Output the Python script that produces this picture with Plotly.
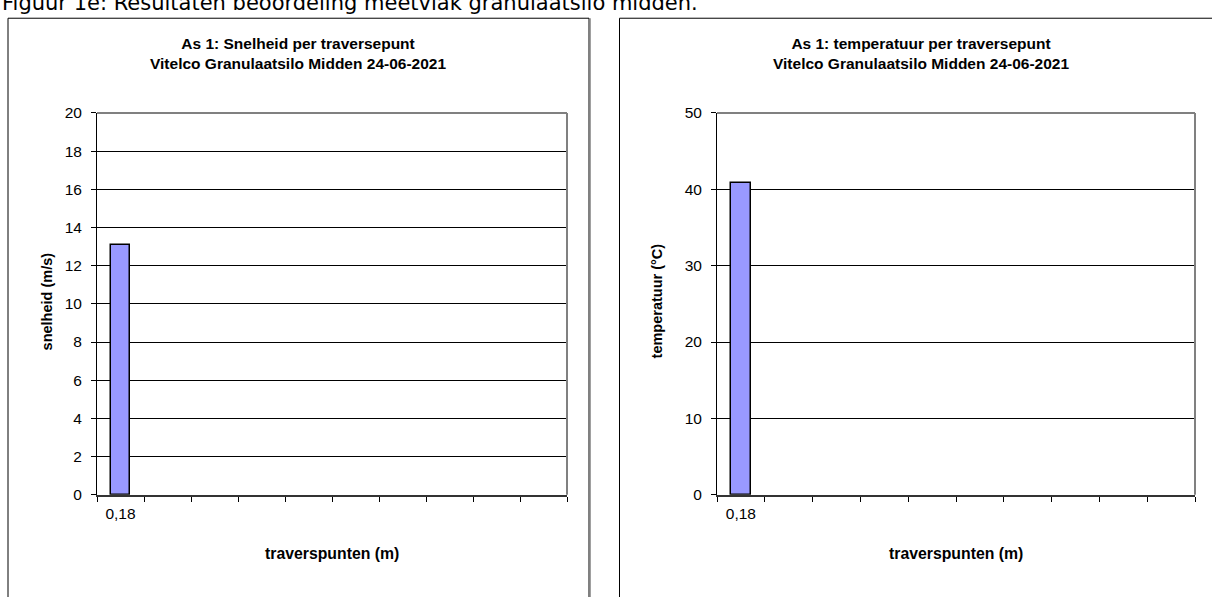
import plotly.graph_objects as go

W, H = 1212, 597

# ---- data ----
x_categories = ["0,18", "c2", "c3", "c4", "c5", "c6", "c7", "c8", "c9", "c10"]
x_ticklabels = ["0,18", "", "", "", "", "", "", "", "", ""]
points = ["0,18"]
snelheid = [13.1]
temperatuur = [40.8]

header = "Figuur 1e: Resultaten beoordeling meetvlak granulaatsilo midden."
title_left = "As 1: Snelheid per traversepunt<br>Vitelco Granulaatsilo Midden 24-06-2021"
title_right = "As 1: temperatuur per traversepunt<br>Vitelco Granulaatsilo Midden 24-06-2021"
ytitle_left = "snelheid (m/s)"
ytitle_right = "temperatuur (°C)"
xtitle = "traverspunten (m)"

FONT = "Liberation Sans, Arial, sans-serif"

def px(x):
    return x / W

def py(y):
    return 1 - y / H

fig = go.Figure()
fig.add_trace(go.Bar(x=points, y=snelheid, xaxis="x", yaxis="y", width=0.42,
                     marker=dict(color="#9999FF", line=dict(color="black", width=1.5)),
                     showlegend=False))
fig.add_trace(go.Bar(x=points, y=temperatuur, xaxis="x2", yaxis="y2", width=0.42,
                     marker=dict(color="#9999FF", line=dict(color="black", width=1.5)),
                     showlegend=False))

plot_top, plot_bot = 107, 500
left_plot = (97, 567)
right_plot = (717, 1195)

xcommon = dict(type="category", categoryorder="array", categoryarray=x_categories,
               tickmode="array", tickvals=x_categories, ticktext=x_ticklabels,
               tickson="boundaries", range=[-0.5, 9.5], showgrid=False,
               showline=True, linecolor="#333333", linewidth=1.5,
               ticks="outside", ticklen=5, tickcolor="black",
               tickfont=dict(family=FONT, size=15.5, color="black"),
               ticklabelstandoff=4,
               fixedrange=True, zeroline=False)
ycommon = dict(showline=True, linecolor="black", linewidth=1,
               showgrid=True, gridcolor="black", gridwidth=1,
               ticks="outside", ticklen=5, tickcolor="black",
               tickfont=dict(family=FONT, size=15.5, color="black"),
               ticklabelstandoff=6, zeroline=False, fixedrange=True)

fig.update_layout(
    width=W, height=H,
    margin=dict(l=0, r=0, t=0, b=0),
    paper_bgcolor="white", plot_bgcolor="white",
    bargap=0,
    xaxis=dict(domain=[px(left_plot[0]), px(left_plot[1])], anchor="y", **xcommon),
    yaxis=dict(domain=[py(plot_bot), py(plot_top)], anchor="x", range=[0, 20], dtick=2, **ycommon),
    xaxis2=dict(domain=[px(right_plot[0]), px(right_plot[1])], anchor="y2", **xcommon),
    yaxis2=dict(domain=[py(plot_bot), py(plot_top)], anchor="x2", range=[0, 50], dtick=10, **ycommon),
)

shapes = []
# chart boxes
shapes.append(dict(type="rect", xref="paper", yref="paper", x0=px(8), x1=px(589), y0=py(620), y1=py(9.5),
                   line=dict(color="black", width=1), layer="below"))
shapes.append(dict(type="line", xref="paper", yref="paper", x0=px(590), x1=px(590), y0=py(620), y1=py(9.5),
                   line=dict(color="#808080", width=1.5)))
shapes.append(dict(type="rect", xref="paper", yref="paper", x0=px(619.5), x1=px(1214), y0=py(620), y1=py(9.5),
                   line=dict(color="black", width=1), layer="below"))
# plot area top/right border in gray
for xa, ya in (("x", "y"), ("x2", "y2")):
    shapes.append(dict(type="line", xref=f"{xa} domain", yref=f"{ya} domain", x0=0, x1=1, y0=1, y1=1,
                       line=dict(color="#808080", width=2)))
    shapes.append(dict(type="line", xref=f"{xa} domain", yref=f"{ya} domain", x0=1, x1=1, y0=0, y1=1,
                       line=dict(color="#808080", width=2)))
fig.update_layout(shapes=shapes)

ann = []
ann.append(dict(text=header, xref="paper", yref="paper", x=0, y=py(8), xanchor="left", yanchor="bottom",
                showarrow=False, font=dict(family="DejaVu Sans, Verdana, sans-serif", size=21, color="black")))
for cx, t in ((298, title_left), (921, title_right)):
    ann.append(dict(text=f"<b>{t}</b>", xref="paper", yref="paper", x=px(cx), y=py(46), xanchor="center",
                    yanchor="middle", showarrow=False,
                    font=dict(family=FONT, size=15.5, color="black")))
for cx, t in ((47, ytitle_left), (657, ytitle_right)):
    ann.append(dict(text=f"<b>{t}</b>", xref="paper", yref="paper", x=px(cx), y=py(301), xanchor="center",
                    yanchor="middle", showarrow=False, textangle=-90,
                    font=dict(family=FONT, size=14.5, color="black")))
for cx in ((left_plot[0] + left_plot[1]) / 2, (right_plot[0] + right_plot[1]) / 2):
    ann.append(dict(text=f"<b>{xtitle}</b>", xref="paper", yref="paper", x=px(cx), y=py(560), xanchor="center",
                    yanchor="middle", showarrow=False,
                    font=dict(family=FONT, size=15.8, color="black")))
fig.update_layout(annotations=ann)

fig.write_html("out.html", config={"displayModeBar": False},
               post_script="document.body.style.margin='0';document.body.style.overflow='hidden';")
